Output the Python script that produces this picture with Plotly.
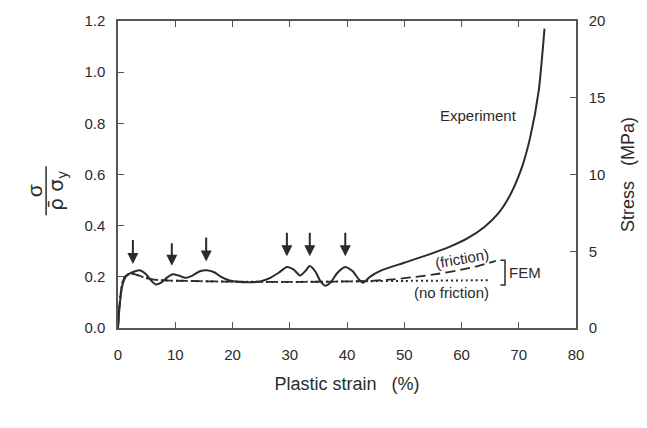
import plotly.graph_objects as go

# ---- data ----
exp_strain = [0, 0.3, 0.7, 1.2, 2.0, 3.0, 3.8, 4.8, 5.8, 6.6, 7.6, 8.6, 9.6, 10.6, 11.8, 13.0, 14.3, 15.5, 16.8, 18.0, 19.5,
              21.0, 23.0, 25.0, 26.5, 28.0, 29.5, 30.7, 31.8, 32.7, 33.5, 34.5, 35.3, 36.2, 37.2, 38.3, 39.7, 41.0, 42.0, 42.8,
              44.0, 46.0, 50.0, 54.0, 58.0, 61.0, 64.0, 66.5, 68.5, 70.5, 72.0, 73.5, 74.5]
exp_ratio = [0.0, 0.09, 0.16, 0.195, 0.212, 0.222, 0.226, 0.212, 0.185, 0.17, 0.178, 0.198, 0.21, 0.205, 0.196, 0.205, 0.222, 0.226, 0.218, 0.2, 0.186,
             0.181, 0.179, 0.183, 0.195, 0.215, 0.238, 0.228, 0.205, 0.222, 0.242, 0.22, 0.185, 0.165, 0.18, 0.215, 0.238, 0.222, 0.192, 0.177,
             0.2, 0.225, 0.255, 0.285, 0.318, 0.35, 0.395, 0.45, 0.52, 0.625, 0.745, 0.93, 1.17]

fem_f_strain = [0, 0.3, 0.7, 1.2, 2.0, 3.0, 4.5, 6.0, 8.0, 12.0, 20.0, 30.0, 40.0, 44.0, 48.0, 52.0, 56.0, 60.0, 63.0, 66.0]
fem_f_ratio = [0.0, 0.1, 0.17, 0.2, 0.213, 0.21, 0.198, 0.19, 0.186, 0.184, 0.181, 0.18, 0.182, 0.184, 0.19, 0.2, 0.212, 0.228, 0.243, 0.262]

fem_nf_strain = [0, 0.3, 0.7, 1.2, 2.0, 3.0, 4.5, 6.0, 8.0, 12.0, 20.0, 30.0, 40.0, 44.0, 50.0, 55.0, 60.0, 65.0]
fem_nf_ratio = [0.0, 0.1, 0.17, 0.2, 0.213, 0.21, 0.198, 0.19, 0.186, 0.184, 0.181, 0.18, 0.182, 0.183, 0.184, 0.185, 0.186, 0.187]

arrow_strain = [2.6, 9.4, 15.4, 29.5, 33.5, 39.7]
arrow_tip = [0.25, 0.243, 0.26, 0.28, 0.28, 0.28]
arrow_tail = [0.35, 0.337, 0.36, 0.378, 0.378, 0.378]

x_ticks = [0, 10, 20, 30, 40, 50, 60, 70, 80]
y_ticks = [0.0, 0.2, 0.4, 0.6, 0.8, 1.0, 1.2]
y2_ticks = [0, 5, 10, 15, 20]

INK = "#2b2b2b"
AX = "#555555"
FONT = "Liberation Sans, Arial, sans-serif"

fig = go.Figure()
fig.add_trace(go.Scatter(x=fem_nf_strain, y=fem_nf_ratio, mode="lines",
                         line=dict(color=INK, width=2, dash="2px,3px", shape="spline", smoothing=0.6),
                         hoverinfo="skip", showlegend=False))
fig.add_trace(go.Scatter(x=fem_f_strain, y=fem_f_ratio, mode="lines",
                         line=dict(color=INK, width=1.8, dash="10px,5px", shape="spline", smoothing=0.6),
                         hoverinfo="skip", showlegend=False))
fig.add_trace(go.Scatter(x=exp_strain, y=exp_ratio, mode="lines",
                         line=dict(color=INK, width=2, shape="spline", smoothing=0.6),
                         hoverinfo="skip", showlegend=False))
# invisible trace to activate the right axis
fig.add_trace(go.Scatter(x=[0], y=[0], yaxis="y2", mode="markers", marker=dict(opacity=0),
                         hoverinfo="skip", showlegend=False))

for s, tip, tail in zip(arrow_strain, arrow_tip, arrow_tail):
    fig.add_annotation(x=s, y=tip, ax=s, ay=tail, xref="x", yref="y", axref="x", ayref="y",
                       text="", showarrow=True, arrowhead=2, arrowsize=1.1, arrowwidth=2,
                       arrowcolor=INK, standoff=0)

fig.add_annotation(x=62.9, y=0.83, xref="x", yref="y", text="Experiment", showarrow=False,
                   font=dict(size=15, color=INK, family=FONT))
fig.add_annotation(x=60, y=0.27, xref="x", yref="y", text="(friction)", showarrow=False,
                   textangle=-10, font=dict(size=15, color=INK, family=FONT))
fig.add_annotation(x=58.2, y=0.138, xref="x", yref="y", text="(no friction)", showarrow=False,
                   font=dict(size=15, color=INK, family=FONT))
fig.add_annotation(x=67.9, y=0.218, xref="x", yref="y", text="FEM", showarrow=False,
                   xanchor="left", font=dict(size=15, color=INK, family=FONT))
# bracket
fig.add_shape(type="path", xref="x", yref="y",
              path="M 66.8 0.265 L 67.6 0.265 L 67.6 0.168 L 66.8 0.168",
              line=dict(color=INK, width=1.5))

# left axis title as a rotated fraction
fig.add_annotation(x=-0.212, y=0.447, xref="paper", yref="paper", text="σ", showarrow=False,
                   textangle=-90, font=dict(size=21, color=INK, family=FONT))
fig.add_annotation(x=-0.166, y=0.447, xref="paper", yref="paper", text="ρ̄ σ<sub>y</sub>", showarrow=False,
                   textangle=-90, font=dict(size=20, color=INK, family="DejaVu Sans, sans-serif"))
fig.add_shape(type="line", xref="paper", yref="paper", x0=-0.157, x1=-0.157, y0=0.367, y1=0.527,
              line=dict(color=INK, width=1.5))

fig.update_layout(
    width=647, height=428,
    margin=dict(l=118, r=71, t=19, b=100),
    paper_bgcolor="white", plot_bgcolor="white",
    font=dict(family=FONT, size=15, color=INK),
    xaxis=dict(range=[0, 80], tickvals=x_ticks, ticks="inside", ticklen=6, tickcolor=AX,
               showline=True, linecolor=AX, linewidth=1.5, mirror="ticks",
               showgrid=False, zeroline=False, ticklabelstandoff=12,
               title=dict(text="Plastic strain\u00a0\u00a0\u00a0(%)", font=dict(size=18), standoff=16)),
    yaxis=dict(range=[0, 1.2], tickvals=y_ticks, tickformat=".1f", ticks="inside", ticklen=6, tickcolor=AX,
               showline=True, linecolor=AX, linewidth=1.5, showgrid=False, zeroline=False,
               ticklabelstandoff=8),
    yaxis2=dict(range=[0, 20], tickvals=y2_ticks, overlaying="y", side="right", ticks="inside", ticklen=6,
                tickcolor=AX, showline=True, linecolor=AX, linewidth=1.5, showgrid=False, zeroline=False,
                ticklabelstandoff=8,
                title=dict(text="Stress\u00a0\u00a0\u00a0(MPa)", font=dict(size=18), standoff=17)),
)

fig.write_html("out.html")
